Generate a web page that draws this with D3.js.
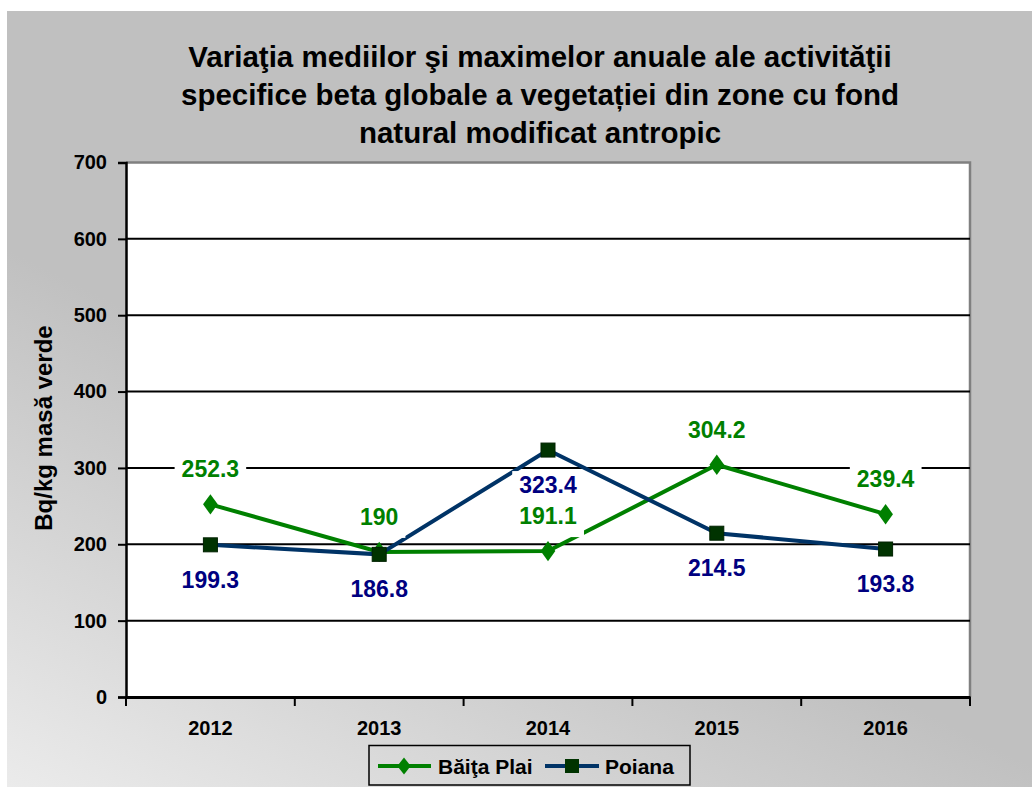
<!DOCTYPE html>
<html>
<head>
<meta charset="utf-8">
<script src="https://cdn.jsdelivr.net/npm/d3@7"></script>
<style>
body { margin: 0; background: #fff; }
text { font-family: "Liberation Sans", Arial, sans-serif; font-weight: bold; }
</style>
</head>
<body>
<svg width="1032" height="787"></svg>
<script>
// values
var years = ["2012", "2013", "2014", "2015", "2016"];
var baitaPlai = [252.3, 190, 191.1, 304.2, 239.4];
var poiana = [199.3, 186.8, 323.4, 214.5, 193.8];
var yTicks = [0, 100, 200, 300, 400, 500, 600, 700];
var titleLines = ["Variaţia mediilor şi maximelor anuale ale activităţii",
	"specifice beta globale a vegetației din zone cu fond",
	"natural modificat antropic"];

var svg = d3.select("svg");
var defs = svg.append("defs");
var grad = defs.append("linearGradient").attr("id", "bg")
	.attr("x1", 0).attr("y1", 1).attr("x2", 0.32).attr("y2", 0.52);
grad.append("stop").attr("offset", 0).attr("stop-color", "#ebebeb");
grad.append("stop").attr("offset", 1).attr("stop-color", "#c0c0c0");

//chart panel
svg.append("rect").attr("x", 7).attr("y", 11).attr("width", 1025).attr("height", 776)
	.attr("fill", "url(#bg)");

var pLeft = 126, pRight = 970, pTop = 162.5, pBottom = 697;
var x = d3.scaleBand().domain(years).range([pLeft, pRight]);
var y = d3.scaleLinear().domain([0, 700]).range([pBottom, pTop]);

//plot area
svg.append("rect").attr("x", pLeft).attr("y", pTop).attr("width", pRight - pLeft).attr("height", pBottom - pTop)
	.attr("fill", "#fff");
svg.append("path").attr("d", "M" + pLeft + "," + pTop + "H" + pRight + "V" + pBottom)
	.attr("fill", "none").attr("stroke", "#808080").attr("stroke-width", 2.5);

//gridlines
svg.append("g").selectAll("line").data(yTicks.filter(function(d) { return d > 0 && d < 700; }))
	.enter().append("line")
	.attr("x1", pLeft).attr("x2", pRight)
	.attr("y1", function(d) { return y(d); }).attr("y2", function(d) { return y(d); })
	.attr("stroke", "#000").attr("stroke-width", 2);

//y axis
var ya = svg.append("g").attr("transform", "translate(" + pLeft + ",0)")
	.call(d3.axisLeft(y).tickValues(yTicks).tickSize(8).tickPadding(11));
ya.select(".domain").attr("stroke-width", 2.5);
ya.selectAll(".tick line").attr("stroke-width", 2);
ya.selectAll("text").style("font-size", "20px").attr("fill", "#000");

//x axis
var xa = svg.append("g").attr("transform", "translate(0," + pBottom + ")")
	.call(d3.axisBottom(x).tickSize(0).tickPadding(24));
xa.select(".domain").attr("stroke-width", 3);
xa.selectAll("text").style("font-size", "20px").attr("fill", "#000");
var bounds = years.map(function(d) { return x(d); }).concat([pRight]);
xa.selectAll("line.bnd").data(bounds).enter().append("line").attr("class", "bnd")
	.attr("x1", function(d) { return d; }).attr("x2", function(d) { return d; })
	.attr("y1", 0).attr("y2", 9).attr("stroke", "#000").attr("stroke-width", 2);

//series
var cx = function(i) { return x(years[i]) + x.bandwidth() / 2; };
var line = d3.line().x(function(d, i) { return cx(i); }).y(function(d) { return y(d); });

svg.append("path").datum(baitaPlai).attr("d", line)
	.attr("fill", "none").attr("stroke", "#008000").attr("stroke-width", 4);
svg.append("g").selectAll("path").data(baitaPlai).enter().append("path")
	.attr("d", d3.symbol(d3.symbolDiamond, 120))
	.attr("transform", function(d, i) { return "translate(" + cx(i) + "," + y(d) + ") scale(1.25,1)"; })
	.attr("fill", "#008000");

svg.append("path").datum(poiana).attr("d", line)
	.attr("fill", "none").attr("stroke", "#003366").attr("stroke-width", 4);
svg.append("g").selectAll("rect").data(poiana).enter().append("rect")
	.attr("x", function(d, i) { return cx(i) - 7; }).attr("y", function(d) { return y(d) - 7; })
	.attr("width", 14).attr("height", 14)
	.attr("fill", "#003300").attr("stroke", "#002200").attr("stroke-width", 1);

//data labels
function labels(data, dy, color) {
	var g = svg.append("g");
	data.forEach(function(d, i) {
		var lg = g.append("g");
		var t = lg.append("text").attr("x", cx(i)).attr("y", y(d) + dy)
			.attr("text-anchor", "middle").attr("dominant-baseline", "central")
			.style("font-size", "23px").attr("fill", color).text(d);
		var b = t.node().getBBox();
		lg.insert("rect", "text").attr("x", b.x - 7).attr("y", b.y - 1)
			.attr("width", b.width + 14).attr("height", b.height + 9).attr("fill", "#fff");
	});
}
labels(baitaPlai, -35, "#008000");
labels(poiana, 35, "#000080");

//title
svg.append("g").selectAll("text").data(titleLines).enter().append("text")
	.attr("x", 540).attr("y", function(d, i) { return 67 + i * 38; })
	.attr("text-anchor", "middle").style("font-size", "29.5px").attr("fill", "#000")
	.text(function(d) { return d; });

//y axis title
svg.append("text").attr("transform", "translate(52,428) rotate(-90)")
	.attr("text-anchor", "middle").style("font-size", "24px").attr("fill", "#000")
	.text("Bq/kg masă verde");

//legend
var lgd = svg.append("g");
lgd.append("rect").attr("x", 369).attr("y", 745.5).attr("width", 321).attr("height", 39.5)
	.attr("fill", "none").attr("stroke", "#000").attr("stroke-width", 1.5);
var ly = 766;
lgd.append("line").attr("x1", 378).attr("x2", 431).attr("y1", ly).attr("y2", ly)
	.attr("stroke", "#008000").attr("stroke-width", 4);
lgd.append("path").attr("d", d3.symbol(d3.symbolDiamond, 100))
	.attr("transform", "translate(404," + ly + ") scale(1.25,0.9)").attr("fill", "#008000");
lgd.append("text").attr("x", 438).attr("y", ly).attr("dominant-baseline", "central")
	.style("font-size", "21px").attr("fill", "#000").text("Băiţa Plai");
lgd.append("line").attr("x1", 545).attr("x2", 599).attr("y1", ly).attr("y2", ly)
	.attr("stroke", "#003366").attr("stroke-width", 4);
lgd.append("rect").attr("x", 565).attr("y", ly - 7).attr("width", 14).attr("height", 14)
	.attr("fill", "#003300");
lgd.append("text").attr("x", 605).attr("y", ly).attr("dominant-baseline", "central")
	.style("font-size", "21px").attr("fill", "#000").text("Poiana");
</script>
</body>
</html>
